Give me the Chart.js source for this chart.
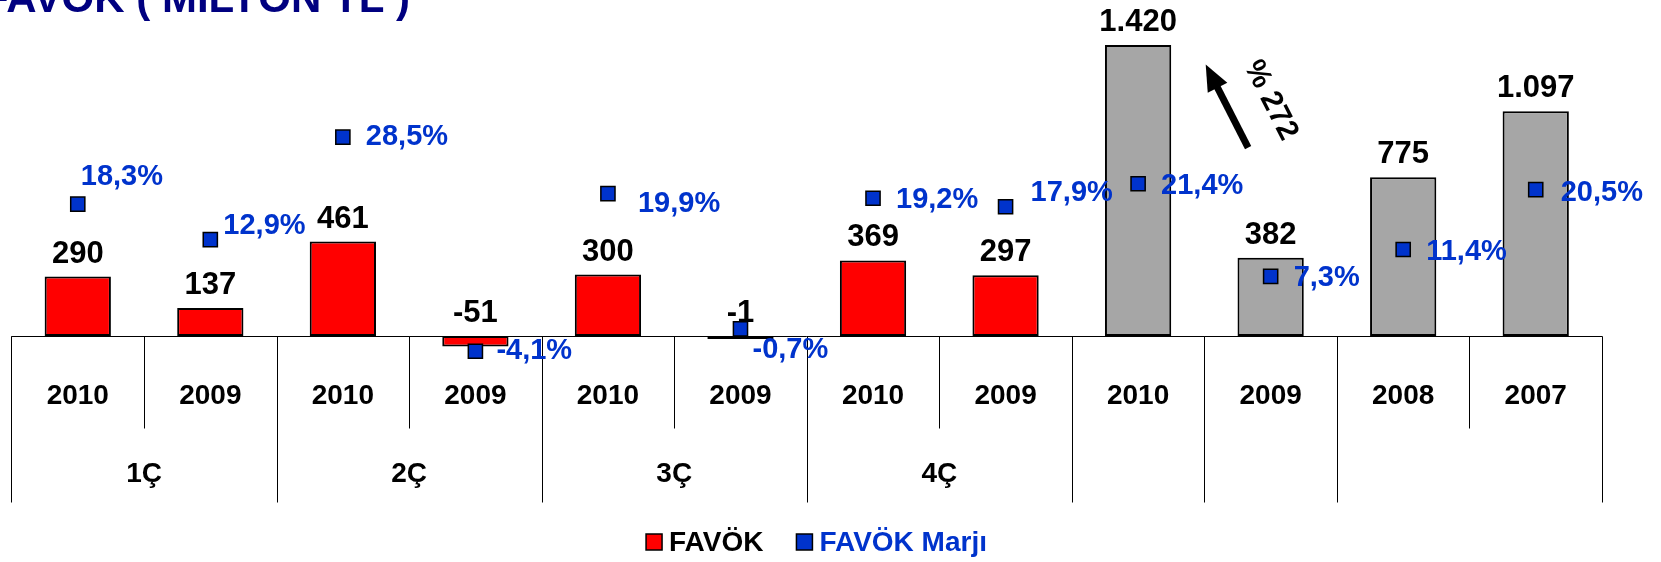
<!DOCTYPE html>
<html>
<head>
<meta charset="utf-8">
<script src="https://cdn.jsdelivr.net/npm/chart.js@4.4.0/dist/chart.umd.min.js"></script>
<style>
  body { margin: 0; background: #fff; }
</style>
</head>
<body>
<canvas id="favok" width="1661" height="562"></canvas>
<script>
var years = ['2010', '2009', '2010', '2009', '2010', '2009', '2010', '2009', '2010', '2009', '2008', '2007'];
// second label row: text and how many year cells each one spans
var groupLabels = ['1Ç', '2Ç', '3Ç', '4Ç', '', '', ''];
var groupSpans = [2, 2, 2, 2, 1, 1, 2];
var quarterCount = 8;

var favok = [290, 137, 461, -51, 300, -1, 369, 297, 1420, 382, 775, 1097];
var marj = [18.3, 12.9, 28.5, -4.1, 19.9, -0.7, 19.2, 17.9, 21.4, 7.3, 11.4, 20.5];

var FONT = "'Liberation Sans', Arial, sans-serif";
var RED = '#ff0000', GRAY = '#a6a6a6', BLUE = '#0033cc', NAVY = '#000080';

// hand placed margin labels (px, from the default spot right of the marker)
var marjNudge = [[-20, -29], [-10, -16], [0, -2], [-2, -2], [7, 8], [-11, 19],
                 [0, 0], [2, -16], [0, 0], [0, 0], [0, 1], [2, 1]];

function tl(n) {
  return String(n).replace(/\B(?=(\d{3})+(?!\d))/g, '.');
}
function pct(v) {
  return v.toFixed(1).replace('.', ',') + '%';
}

// category table under the zero line
var table = {
  id: 'table',
  beforeDatasetsDraw: function (chart) {
    var ctx = chart.ctx, x = chart.scales.x, y = chart.scales.y;
    var y0 = Math.round(y.getPixelForValue(0)) + 0.5;
    var w = x.getPixelForValue(1) - x.getPixelForValue(0);
    var left = x.getPixelForValue(0) - w / 2;

    ctx.save();
    ctx.strokeStyle = '#000';
    ctx.lineWidth = 1;
    ctx.beginPath();
    ctx.moveTo(left, y0);
    ctx.lineTo(left + w * years.length, y0);

    // short dividers between the years
    for (var i = 0; i <= years.length; i++) {
      var xb = Math.round(left + i * w) + 0.5;
      ctx.moveTo(xb, y0);
      ctx.lineTo(xb, y0 + 92);
    }
    // long dividers between the groups
    var pos = 0;
    for (var g = 0; g <= groupSpans.length; g++) {
      var xg = Math.round(left + pos * w) + 0.5;
      ctx.moveTo(xg, y0);
      ctx.lineTo(xg, y0 + 166);
      pos += groupSpans[g] || 0;
    }
    ctx.stroke();

    ctx.fillStyle = '#000';
    ctx.font = 'bold 28px ' + FONT;
    ctx.textAlign = 'center';
    ctx.textBaseline = 'middle';
    years.forEach(function (yr, i) {
      ctx.fillText(yr, x.getPixelForValue(i), y0 + 60);
    });
    pos = 0;
    groupLabels.forEach(function (lbl, g) {
      var cx = left + (pos + groupSpans[g] / 2) * w;
      ctx.fillText(lbl, cx, y0 + 138);
      pos += groupSpans[g];
    });
    ctx.restore();
  },

  afterDatasetsDraw: function (chart) {
    var ctx = chart.ctx, x = chart.scales.x, y = chart.scales.y, y2 = chart.scales.y2;
    ctx.save();

    // FAVÖK values over the bars
    ctx.fillStyle = '#000';
    ctx.font = 'bold 31px ' + FONT;
    ctx.textAlign = 'center';
    ctx.textBaseline = 'alphabetic';
    favok.forEach(function (v, i) {
      var top = Math.min(y.getPixelForValue(v), y.getPixelForValue(0));
      ctx.fillText(tl(v), x.getPixelForValue(i), top - 14);
    });

    // margin values next to the markers
    ctx.fillStyle = BLUE;
    ctx.font = 'bold 29px ' + FONT;
    ctx.textAlign = 'left';
    ctx.textBaseline = 'middle';
    marj.forEach(function (v, i) {
      var n = marjNudge[i];
      ctx.fillText(pct(v), x.getPixelForValue(i) + 23 + n[0], y2.getPixelForValue(v) + 2 + n[1]);
    });

    // growth arrow between the 2009 and 2010 annual bars
    var w = x.getPixelForValue(1) - x.getPixelForValue(0);
    var xb = x.getPixelForValue(8) + w / 2;
    var tx = xb + 0.33 * w, ty = y.getPixelForValue(920);
    var hx = xb + 0.01 * w, hy = y.getPixelForValue(1325);
    var ang = Math.atan2(hy - ty, hx - tx);
    var len = Math.hypot(hx - tx, hy - ty);
    ctx.translate(tx, ty);
    ctx.rotate(ang);
    ctx.fillStyle = '#000';
    ctx.fillRect(0, -3.5, len - 22, 7);
    ctx.beginPath();
    ctx.moveTo(len, 0);
    ctx.lineTo(len - 26, -11);
    ctx.lineTo(len - 26, 11);
    ctx.closePath();
    ctx.fill();
    ctx.setTransform(1, 0, 0, 1, 0, 0);

    var growth = Math.round((favok[8] / favok[9] - 1) * 100);
    ctx.translate(xb + 0.5 * w, y.getPixelForValue(1150));
    ctx.rotate(ang + Math.PI);
    ctx.font = 'bold 30px ' + FONT;
    ctx.textAlign = 'center';
    ctx.fillText('% ' + growth, 0, 0);
    ctx.setTransform(1, 0, 0, 1, 0, 0);

    // title, cut by the top edge
    ctx.fillStyle = NAVY;
    ctx.font = 'bold 42px ' + FONT;
    ctx.textAlign = 'left';
    ctx.textBaseline = 'alphabetic';
    ctx.fillText('FAVÖK ( MİLYON TL )', -17, 12);

    // legend
    var items = [
      { text: 'FAVÖK', fill: RED, color: '#000' },
      { text: 'FAVÖK Marjı', fill: BLUE, color: BLUE }
    ];
    ctx.font = 'bold 28px ' + FONT;
    var box = 16, gap = 7, spacing = 33;
    var total = 0;
    items.forEach(function (it, k) {
      it.w = ctx.measureText(it.text).width;
      total += box + gap + it.w + (k ? spacing : 0);
    });
    var lx = chart.width / 2 - 14 - total / 2, ly = 542;
    items.forEach(function (it) {
      ctx.fillStyle = it.fill;
      ctx.fillRect(lx, ly - box / 2, box, box);
      ctx.strokeStyle = '#000';
      ctx.lineWidth = 1.5;
      ctx.strokeRect(lx, ly - box / 2, box, box);
      ctx.fillStyle = it.color;
      ctx.textBaseline = 'middle';
      ctx.fillText(it.text, lx + box + gap, ly + 1);
      lx += box + gap + it.w + spacing;
    });
    ctx.restore();
  }
};

var chart = new Chart(document.getElementById('favok').getContext('2d'), {
  type: 'bar',
  data: {
    labels: years,
    datasets: [{
      label: 'FAVÖK Marjı',
      type: 'line',
      data: marj,
      yAxisID: 'y2',
      showLine: false,
      pointStyle: 'rect',
      pointRadius: 10,
      pointBackgroundColor: BLUE,
      pointBorderColor: '#000',
      pointBorderWidth: 1.5,
      order: 0,
      clip: false
    }, {
      label: 'FAVÖK',
      data: favok,
      yAxisID: 'y',
      backgroundColor: function (c) { return c.dataIndex < quarterCount ? RED : GRAY; },
      borderColor: '#000',
      borderWidth: 2,
      borderSkipped: false,
      minBarLength: 3,
      barPercentage: 0.5,
      categoryPercentage: 1,
      order: 1,
      clip: false
    }]
  },
  options: {
    responsive: false,
    animation: false,
    layout: { padding: { left: 9.5, right: 59, top: 10, bottom: 202 } },
    plugins: {
      legend: { display: false },
      tooltip: { enabled: false }
    },
    scales: {
      x: { display: false, offset: true },
      y: { display: false, min: -117, max: 1584 },
      y2: { display: false, position: 'right', min: -5.43, max: 47.63 }
    }
  },
  plugins: [table]
});
</script>
</body>
</html>
